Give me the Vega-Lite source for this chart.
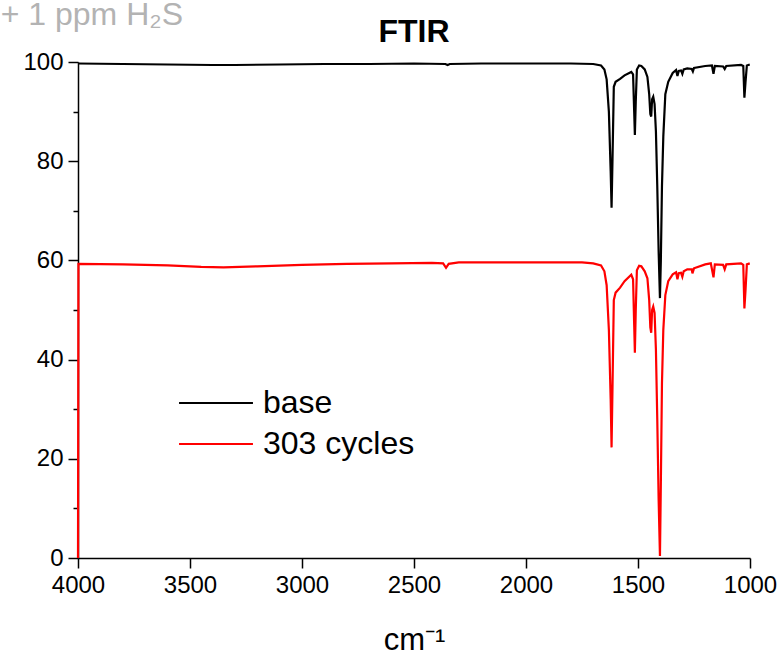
{
  "$schema": "https://vega.github.io/schema/vega-lite/v6.json",
  "width": 672,
  "height": 496,
  "autosize": {"type": "none"},
  "padding": {"left": 78, "top": 62, "right": 33, "bottom": 97},
  "background": "white",
  "config": {"view": {"stroke": null}, "font": "Liberation Sans"},
  "datasets": {
    "spectra": [
      {"series": "base", "wavenumber": 4000, "transmittance": 99.7},
      {"series": "base", "wavenumber": 3800, "transmittance": 99.6},
      {"series": "base", "wavenumber": 3600, "transmittance": 99.5},
      {"series": "base", "wavenumber": 3400, "transmittance": 99.4},
      {"series": "base", "wavenumber": 3300, "transmittance": 99.4},
      {"series": "base", "wavenumber": 3100, "transmittance": 99.5},
      {"series": "base", "wavenumber": 2900, "transmittance": 99.6},
      {"series": "base", "wavenumber": 2700, "transmittance": 99.6},
      {"series": "base", "wavenumber": 2500, "transmittance": 99.7},
      {"series": "base", "wavenumber": 2360, "transmittance": 99.6},
      {"series": "base", "wavenumber": 2350, "transmittance": 99.4},
      {"series": "base", "wavenumber": 2340, "transmittance": 99.6},
      {"series": "base", "wavenumber": 2200, "transmittance": 99.7},
      {"series": "base", "wavenumber": 2000, "transmittance": 99.7},
      {"series": "base", "wavenumber": 1800, "transmittance": 99.7},
      {"series": "base", "wavenumber": 1700, "transmittance": 99.6},
      {"series": "base", "wavenumber": 1665, "transmittance": 99.3},
      {"series": "base", "wavenumber": 1650, "transmittance": 98.5},
      {"series": "base", "wavenumber": 1640, "transmittance": 96.5},
      {"series": "base", "wavenumber": 1630, "transmittance": 90},
      {"series": "base", "wavenumber": 1622, "transmittance": 78},
      {"series": "base", "wavenumber": 1618, "transmittance": 70.6},
      {"series": "base", "wavenumber": 1614, "transmittance": 80},
      {"series": "base", "wavenumber": 1608, "transmittance": 95},
      {"series": "base", "wavenumber": 1600, "transmittance": 96},
      {"series": "base", "wavenumber": 1580, "transmittance": 96.6},
      {"series": "base", "wavenumber": 1560, "transmittance": 97.3},
      {"series": "base", "wavenumber": 1530, "transmittance": 98},
      {"series": "base", "wavenumber": 1522, "transmittance": 97.5},
      {"series": "base", "wavenumber": 1517, "transmittance": 90},
      {"series": "base", "wavenumber": 1514, "transmittance": 85.3},
      {"series": "base", "wavenumber": 1510, "transmittance": 92},
      {"series": "base", "wavenumber": 1505, "transmittance": 98.5},
      {"series": "base", "wavenumber": 1495, "transmittance": 99.3},
      {"series": "base", "wavenumber": 1485, "transmittance": 99.2},
      {"series": "base", "wavenumber": 1470, "transmittance": 98.5},
      {"series": "base", "wavenumber": 1458, "transmittance": 97},
      {"series": "base", "wavenumber": 1450, "transmittance": 93.5},
      {"series": "base", "wavenumber": 1445, "transmittance": 89.5},
      {"series": "base", "wavenumber": 1441, "transmittance": 89},
      {"series": "base", "wavenumber": 1437, "transmittance": 92.5},
      {"series": "base", "wavenumber": 1432, "transmittance": 93},
      {"series": "base", "wavenumber": 1426, "transmittance": 91.5},
      {"series": "base", "wavenumber": 1420, "transmittance": 86},
      {"series": "base", "wavenumber": 1414, "transmittance": 75},
      {"series": "base", "wavenumber": 1408, "transmittance": 62},
      {"series": "base", "wavenumber": 1402, "transmittance": 52.4},
      {"series": "base", "wavenumber": 1398, "transmittance": 60},
      {"series": "base", "wavenumber": 1393, "transmittance": 75},
      {"series": "base", "wavenumber": 1387, "transmittance": 85},
      {"series": "base", "wavenumber": 1378, "transmittance": 93.5},
      {"series": "base", "wavenumber": 1365, "transmittance": 96},
      {"series": "base", "wavenumber": 1345, "transmittance": 97.8},
      {"series": "base", "wavenumber": 1330, "transmittance": 98.4},
      {"series": "base", "wavenumber": 1324, "transmittance": 97.2},
      {"series": "base", "wavenumber": 1318, "transmittance": 98.2},
      {"series": "base", "wavenumber": 1308, "transmittance": 98.3},
      {"series": "base", "wavenumber": 1302, "transmittance": 97.6},
      {"series": "base", "wavenumber": 1296, "transmittance": 98.5},
      {"series": "base", "wavenumber": 1280, "transmittance": 98.7},
      {"series": "base", "wavenumber": 1260, "transmittance": 98.6},
      {"series": "base", "wavenumber": 1255, "transmittance": 98.1},
      {"series": "base", "wavenumber": 1250, "transmittance": 98.8},
      {"series": "base", "wavenumber": 1200, "transmittance": 99.2},
      {"series": "base", "wavenumber": 1170, "transmittance": 99.3},
      {"series": "base", "wavenumber": 1163, "transmittance": 97.6},
      {"series": "base", "wavenumber": 1157, "transmittance": 99.2},
      {"series": "base", "wavenumber": 1120, "transmittance": 99.1},
      {"series": "base", "wavenumber": 1113, "transmittance": 98.6},
      {"series": "base", "wavenumber": 1106, "transmittance": 99.2},
      {"series": "base", "wavenumber": 1040, "transmittance": 99.4},
      {"series": "base", "wavenumber": 1030, "transmittance": 99.2},
      {"series": "base", "wavenumber": 1025, "transmittance": 92.8},
      {"series": "base", "wavenumber": 1020, "transmittance": 96},
      {"series": "base", "wavenumber": 1014, "transmittance": 99.3},
      {"series": "base", "wavenumber": 1001, "transmittance": 99.5},
      {"series": "303 cycles", "wavenumber": 4000, "transmittance": 0},
      {"series": "303 cycles", "wavenumber": 3998, "transmittance": 59.3},
      {"series": "303 cycles", "wavenumber": 3800, "transmittance": 59.2},
      {"series": "303 cycles", "wavenumber": 3600, "transmittance": 59.0},
      {"series": "303 cycles", "wavenumber": 3450, "transmittance": 58.7},
      {"series": "303 cycles", "wavenumber": 3350, "transmittance": 58.6},
      {"series": "303 cycles", "wavenumber": 3200, "transmittance": 58.8},
      {"series": "303 cycles", "wavenumber": 3000, "transmittance": 59.1},
      {"series": "303 cycles", "wavenumber": 2800, "transmittance": 59.3},
      {"series": "303 cycles", "wavenumber": 2600, "transmittance": 59.4},
      {"series": "303 cycles", "wavenumber": 2420, "transmittance": 59.5},
      {"series": "303 cycles", "wavenumber": 2370, "transmittance": 59.4},
      {"series": "303 cycles", "wavenumber": 2357, "transmittance": 58.5},
      {"series": "303 cycles", "wavenumber": 2345, "transmittance": 59.3},
      {"series": "303 cycles", "wavenumber": 2300, "transmittance": 59.6},
      {"series": "303 cycles", "wavenumber": 2100, "transmittance": 59.6},
      {"series": "303 cycles", "wavenumber": 1900, "transmittance": 59.6},
      {"series": "303 cycles", "wavenumber": 1750, "transmittance": 59.6},
      {"series": "303 cycles", "wavenumber": 1700, "transmittance": 59.4},
      {"series": "303 cycles", "wavenumber": 1665, "transmittance": 59.0},
      {"series": "303 cycles", "wavenumber": 1650, "transmittance": 57.8},
      {"series": "303 cycles", "wavenumber": 1640, "transmittance": 55},
      {"series": "303 cycles", "wavenumber": 1630, "transmittance": 46},
      {"series": "303 cycles", "wavenumber": 1622, "transmittance": 32},
      {"series": "303 cycles", "wavenumber": 1618, "transmittance": 22.3},
      {"series": "303 cycles", "wavenumber": 1614, "transmittance": 34},
      {"series": "303 cycles", "wavenumber": 1608, "transmittance": 52},
      {"series": "303 cycles", "wavenumber": 1600, "transmittance": 53.5},
      {"series": "303 cycles", "wavenumber": 1580, "transmittance": 54.5},
      {"series": "303 cycles", "wavenumber": 1560, "transmittance": 55.8},
      {"series": "303 cycles", "wavenumber": 1530, "transmittance": 57.1},
      {"series": "303 cycles", "wavenumber": 1522, "transmittance": 56.2},
      {"series": "303 cycles", "wavenumber": 1517, "transmittance": 47},
      {"series": "303 cycles", "wavenumber": 1514, "transmittance": 41.4},
      {"series": "303 cycles", "wavenumber": 1510, "transmittance": 50},
      {"series": "303 cycles", "wavenumber": 1505, "transmittance": 58},
      {"series": "303 cycles", "wavenumber": 1495, "transmittance": 58.9},
      {"series": "303 cycles", "wavenumber": 1485, "transmittance": 58.8},
      {"series": "303 cycles", "wavenumber": 1470, "transmittance": 57.8},
      {"series": "303 cycles", "wavenumber": 1458, "transmittance": 56.4},
      {"series": "303 cycles", "wavenumber": 1450, "transmittance": 52},
      {"series": "303 cycles", "wavenumber": 1445, "transmittance": 46.5},
      {"series": "303 cycles", "wavenumber": 1441, "transmittance": 45.4},
      {"series": "303 cycles", "wavenumber": 1437, "transmittance": 50},
      {"series": "303 cycles", "wavenumber": 1432, "transmittance": 50.7},
      {"series": "303 cycles", "wavenumber": 1426, "transmittance": 49.4},
      {"series": "303 cycles", "wavenumber": 1420, "transmittance": 42},
      {"series": "303 cycles", "wavenumber": 1414, "transmittance": 28},
      {"series": "303 cycles", "wavenumber": 1408, "transmittance": 12},
      {"series": "303 cycles", "wavenumber": 1402, "transmittance": 0.4},
      {"series": "303 cycles", "wavenumber": 1398, "transmittance": 15},
      {"series": "303 cycles", "wavenumber": 1393, "transmittance": 35.3},
      {"series": "303 cycles", "wavenumber": 1387, "transmittance": 46},
      {"series": "303 cycles", "wavenumber": 1378, "transmittance": 53},
      {"series": "303 cycles", "wavenumber": 1365, "transmittance": 55.8},
      {"series": "303 cycles", "wavenumber": 1345, "transmittance": 57.2},
      {"series": "303 cycles", "wavenumber": 1330, "transmittance": 57.6},
      {"series": "303 cycles", "wavenumber": 1324, "transmittance": 56.2},
      {"series": "303 cycles", "wavenumber": 1318, "transmittance": 57.4},
      {"series": "303 cycles", "wavenumber": 1308, "transmittance": 57.5},
      {"series": "303 cycles", "wavenumber": 1302, "transmittance": 56.7},
      {"series": "303 cycles", "wavenumber": 1296, "transmittance": 57.8},
      {"series": "303 cycles", "wavenumber": 1280, "transmittance": 58.2},
      {"series": "303 cycles", "wavenumber": 1260, "transmittance": 58.2},
      {"series": "303 cycles", "wavenumber": 1257, "transmittance": 57.4},
      {"series": "303 cycles", "wavenumber": 1250, "transmittance": 58.4},
      {"series": "303 cycles", "wavenumber": 1200, "transmittance": 59.2},
      {"series": "303 cycles", "wavenumber": 1175, "transmittance": 59.4},
      {"series": "303 cycles", "wavenumber": 1163, "transmittance": 56.6},
      {"series": "303 cycles", "wavenumber": 1157, "transmittance": 59.2},
      {"series": "303 cycles", "wavenumber": 1120, "transmittance": 59.1},
      {"series": "303 cycles", "wavenumber": 1113, "transmittance": 58.2},
      {"series": "303 cycles", "wavenumber": 1106, "transmittance": 59.2},
      {"series": "303 cycles", "wavenumber": 1040, "transmittance": 59.4},
      {"series": "303 cycles", "wavenumber": 1030, "transmittance": 59.1},
      {"series": "303 cycles", "wavenumber": 1025, "transmittance": 50.3},
      {"series": "303 cycles", "wavenumber": 1020, "transmittance": 54},
      {"series": "303 cycles", "wavenumber": 1014, "transmittance": 59.2},
      {"series": "303 cycles", "wavenumber": 1001, "transmittance": 59.4}
    ],
    "note": [{"label": "+ 1 ppm H₂S"}],
    "heading": [{"label": "FTIR"}]
  },
  "layer": [
    {
      "data": {"name": "spectra"},
      "mark": {"type": "line", "strokeWidth": 2.2},
      "encoding": {
        "x": {
          "field": "wavenumber", "type": "quantitative",
          "scale": {"domain": [1000, 4000], "reverse": true, "nice": false, "zero": false},
          "axis": {
            "values": [4000, 3500, 3000, 2500, 2000, 1500, 1000],
            "format": "d", "grid": false,
            "domainColor": "black", "domainWidth": 1.5,
            "tickColor": "black", "tickWidth": 1.5, "tickSize": 10,
            "labelFont": "Liberation Sans", "labelFontSize": 24, "labelColor": "black", "labelPadding": 5, "labelFlush": false,
            "title": "cm⁻¹", "titleFont": "Liberation Sans", "titleFontSize": 31, "titleFontWeight": "normal", "titleColor": "black", "titlePadding": 28
          }
        },
        "y": {
          "field": "transmittance", "type": "quantitative",
          "scale": {"domain": [0, 100], "nice": false},
          "axis": {
            "values": [0, 10, 20, 30, 40, 50, 60, 70, 80, 90, 100],
            "labelExpr": "datum.value % 20 === 0 ? datum.label : ''",
            "grid": false,
            "domainColor": "black", "domainWidth": 1.5,
            "tickColor": "black", "tickWidth": 1.5,
            "tickSize": {"condition": {"test": "datum.value % 20 === 0", "value": 10}, "value": 5},
            "labelFont": "Liberation Sans", "labelFontSize": 24, "labelColor": "black", "labelPadding": 5, "labelFlush": false,
            "title": null
          }
        },
        "color": {
          "field": "series", "type": "nominal",
          "scale": {"domain": ["base", "303 cycles"], "range": ["#000000", "#ff0000"]},
          "legend": {
            "title": null, "orient": "none", "legendX": 113, "legendY": 316,
            "symbolType": "M-1.54,0H1.54", "symbolSize": 2304, "symbolStrokeWidth": 2,
            "labelFont": "Liberation Sans", "labelFontSize": 32, "labelColor": "black", "labelOffset": 22,
            "rowPadding": 0, "padding": 0
          }
        }
      }
    },
    {
      "data": {"name": "heading"},
      "mark": {"type": "text", "align": "center", "baseline": "alphabetic", "font": "Liberation Sans", "fontSize": 32, "fontWeight": "bold", "color": "black", "clip": false},
      "encoding": {
        "x": {"datum": 2500, "type": "quantitative"},
        "y": {"datum": 104.0, "type": "quantitative"},
        "text": {"field": "label"}
      }
    },
    {
      "data": {"name": "note"},
      "mark": {"type": "text", "align": "left", "baseline": "alphabetic", "font": "Liberation Sans", "fontSize": 32, "color": "#b3b3b3", "clip": false},
      "encoding": {
        "x": {"datum": 4345, "type": "quantitative"},
        "y": {"datum": 107.5, "type": "quantitative"},
        "text": {"field": "label"}
      }
    }
  ]
}
